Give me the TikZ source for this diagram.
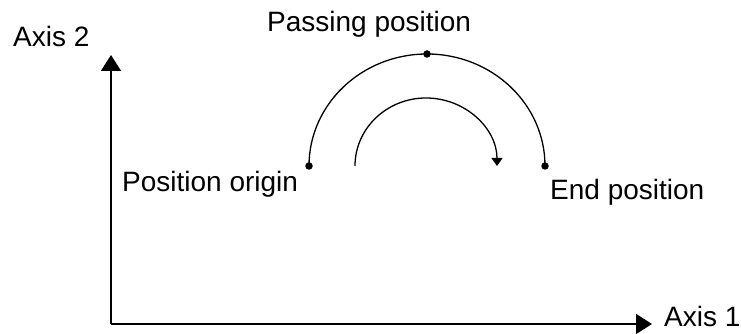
\documentclass[tikz,border=0pt]{standalone}
\usepackage{fontspec}
\setmainfont{Liberation Sans}
\usetikzlibrary{arrows.meta}
\begin{document}
\begin{tikzpicture}[x=1pt,y=1pt,
  lbl/.style={inner sep=0pt,anchor=base west,font=\fontsize{28}{32}\selectfont},
  dotnode/.style={circle,fill=black,inner sep=0pt,minimum size=7.5pt},
  axisline/.style={line width=1.4pt,-{Triangle[length=16pt,width=20pt]}},
  pathline/.style={line width=1.3pt}]
\useasboundingbox (0,0) rectangle (741,334);
% axes
\coordinate (O) at (111,10);
\coordinate (Yt) at (111,279);
\coordinate (Xt) at (652,10);
\draw[axisline] (O) -- (Yt);
\draw[axisline] (O) -- (Xt);
% points
\node[dotnode] (start) at (309,168) {};
\node[dotnode] (pass) at (427,280) {};
\node[dotnode] (end) at (545,168) {};
% outer arc through passing position
\draw[pathline] (start.center) arc[start angle=180,end angle=0,x radius=118,y radius=112];
% inner direction arrow
\coordinate (is) at (355,168);
\draw[pathline,-{Triangle[length=8pt,width=11pt]}] (is) arc[start angle=180,end angle=0,x radius=71,y radius=68];
% labels
\node[lbl] (ax2) at (13,287) {Axis 2};
\node[lbl] (ax1) at (664,7) {Axis 1};
\node[lbl] (lp) at (267,302) {Passing position};
\node[lbl] (lo) at (122,142) {Position origin};
\node[lbl] (le) at (550,134) {End position};
\end{tikzpicture}
\end{document}
